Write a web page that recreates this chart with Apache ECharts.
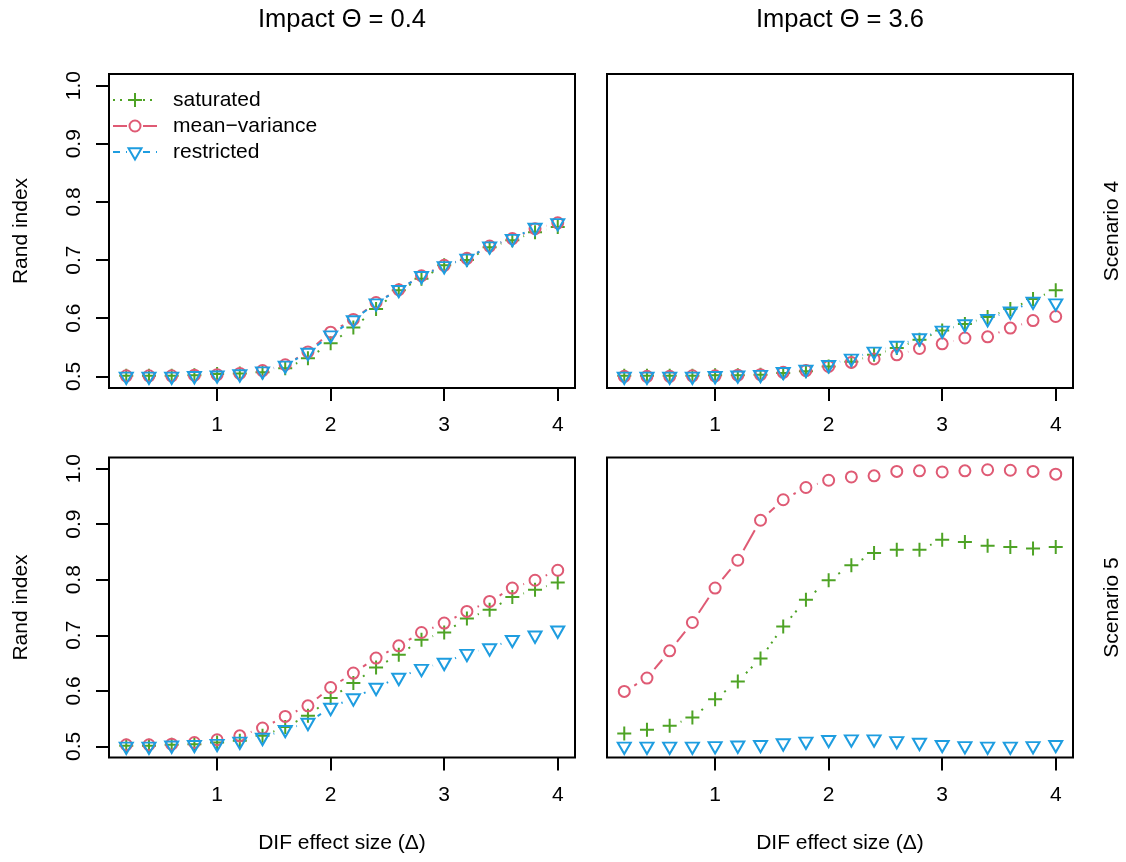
<!DOCTYPE html>
<html><head><meta charset="utf-8">
<script src="https://cdn.jsdelivr.net/npm/echarts@6/dist/echarts.min.js"></script>
<style>html,body{margin:0;padding:0;background:#fff}#c{width:1126px;height:862px}</style>
</head><body><div id="c"></div>
<script>
// ---- data ----
const deltas = [0.2,0.4,0.6,0.8,1.0,1.2,1.4,1.6,1.8,2.0,2.2,2.4,2.6,2.8,3.0,3.2,3.4,3.6,3.8,4.0];
const xTicks = [1,2,3,4];
const yTicks = [0.5,0.6,0.7,0.8,0.9,1.0];
const colTitles = ['Impact \u0398 = 0.4', 'Impact \u0398 = 3.6'];
const rowTitles = ['Scenario 4', 'Scenario 5'];
const methods = ['saturated', 'mean\u2212variance', 'restricted'];

// Scenario 4, impact 0.4
const s4_lo_saturated  = [0.501,0.501,0.501,0.502,0.504,0.505,0.507,0.514,0.531,0.557,0.584,0.616,0.648,0.668,0.691,0.700,0.722,0.734,0.748,0.757];
const s4_lo_meanvar    = [0.501,0.501,0.501,0.502,0.503,0.505,0.510,0.520,0.542,0.576,0.598,0.627,0.649,0.673,0.691,0.703,0.724,0.737,0.754,0.764];
const s4_lo_restricted = [0.500,0.500,0.500,0.501,0.502,0.504,0.509,0.519,0.541,0.571,0.597,0.626,0.649,0.673,0.690,0.703,0.724,0.737,0.756,0.764];
// Scenario 4, impact 3.6
const s4_hi_saturated  = [0.501,0.501,0.501,0.501,0.502,0.502,0.503,0.506,0.509,0.517,0.525,0.537,0.549,0.563,0.579,0.590,0.602,0.616,0.633,0.648];
const s4_hi_meanvar    = [0.500,0.500,0.500,0.501,0.501,0.502,0.503,0.507,0.510,0.517,0.524,0.530,0.537,0.548,0.556,0.566,0.568,0.583,0.596,0.603];
const s4_hi_restricted = [0.500,0.500,0.500,0.500,0.501,0.502,0.503,0.508,0.512,0.520,0.531,0.543,0.553,0.566,0.579,0.590,0.599,0.612,0.629,0.626];
// Scenario 5, impact 0.4
const s5_lo_saturated  = [0.501,0.501,0.503,0.504,0.507,0.510,0.519,0.535,0.555,0.587,0.614,0.642,0.665,0.692,0.705,0.730,0.746,0.769,0.782,0.795];
const s5_lo_meanvar    = [0.503,0.503,0.504,0.507,0.512,0.519,0.533,0.554,0.573,0.606,0.632,0.659,0.681,0.705,0.722,0.743,0.761,0.785,0.799,0.817];
const s5_lo_restricted = [0.500,0.500,0.502,0.503,0.505,0.509,0.516,0.530,0.543,0.570,0.587,0.606,0.624,0.640,0.651,0.667,0.677,0.692,0.700,0.709];
// Scenario 5, impact 3.6
const s5_hi_saturated  = [0.523,0.530,0.537,0.552,0.585,0.617,0.658,0.716,0.764,0.799,0.826,0.848,0.854,0.854,0.872,0.868,0.861,0.859,0.856,0.859];
const s5_hi_meanvar    = [0.599,0.623,0.672,0.723,0.785,0.835,0.907,0.944,0.966,0.979,0.985,0.987,0.995,0.996,0.994,0.996,0.998,0.997,0.995,0.990];
const s5_hi_restricted = [0.500,0.500,0.500,0.500,0.501,0.502,0.503,0.506,0.509,0.512,0.513,0.513,0.510,0.507,0.503,0.501,0.500,0.500,0.501,0.503];

const panels = [
  [s4_lo_saturated, s4_lo_meanvar, s4_lo_restricted],
  [s4_hi_saturated, s4_hi_meanvar, s4_hi_restricted],
  [s5_lo_saturated, s5_lo_meanvar, s5_lo_restricted],
  [s5_hi_saturated, s5_hi_meanvar, s5_hi_restricted]
];

// ---- styles ----
const FONT = "'Liberation Sans', Arial, Helvetica, sans-serif";
const colors = ['#4EA325', '#DF5A74', '#1E9DE0'];
const dashes = [[2, 5], null, [7, 6]];
const PLUS = 'path://M5,0 L5,10 M0,5 L10,5';
const TRI = 'path://M0,0 L11.547,0 L5.7735,10 Z';
const symbols = [PLUS, 'circle', TRI];
const symSizes = [14, 11, [13, 11.3]];
const symOffsets = [[0,0],[0,0],[0,1.9]];
const GAP = 11.6;

const gridBoxes = [
  {left:109, top:74, width:466, height:314},
  {left:607, top:74, width:466, height:314},
  {left:109, top:457.5, width:466, height:300},
  {left:607, top:457.5, width:466, height:300}
];
const showY = [true, false, true, false];

const grids = gridBoxes.map(b => Object.assign({show:true, borderColor:'#000', borderWidth:2, backgroundColor:'transparent'}, b));
const xAxes = gridBoxes.map((b,i) => ({
  type:'value', gridIndex:i, min:0.048, max:4.152,
  axisLine:{show:false}, splitLine:{show:false},
  axisTick:{show:true, inside:false, length:13, lineStyle:{color:'#000', width:2}, customValues:xTicks},
  axisLabel:{show:true, customValues:xTicks, formatter:v=>String(v), fontSize:21, color:'#000', fontFamily:FONT, margin:27}
}));
const yAxes = gridBoxes.map((b,i) => ({
  type:'value', gridIndex:i, min:0.48, max:1.02,
  axisLine:{show:false}, splitLine:{show:false},
  axisTick:{show:showY[i], inside:false, length:13, lineStyle:{color:'#000', width:2}, customValues:yTicks},
  axisLabel:{show:showY[i], customValues:yTicks, formatter:v=>v.toFixed(1), fontSize:21, color:'#000', fontFamily:FONT, rotate:90, margin:24}
}));

function gapLine(gi, ys, color, dash) {
  const data = [];
  for (let i = 1; i < deltas.length; i++) data.push([deltas[i], ys[i], deltas[i-1], ys[i-1]]);
  return {
    type:'custom', xAxisIndex:gi, yAxisIndex:gi, data, silent:true, clip:true,
    encode:{x:[0,2], y:[1,3]},
    renderItem(params, api) {
      const p1 = api.coord([api.value(0), api.value(1)]);
      const p0 = api.coord([api.value(2), api.value(3)]);
      const dx = p1[0]-p0[0], dy = p1[1]-p0[1];
      const d = Math.hypot(dx, dy);
      if (d <= 2*GAP) return {type:'group', children:[]};
      const ux = dx/d, uy = dy/d;
      return {type:'line', shape:{x1:p0[0]+ux*GAP, y1:p0[1]+uy*GAP, x2:p1[0]-ux*GAP, y2:p1[1]-uy*GAP},
        style:{stroke:color, lineWidth:2, lineDash:dash || null, fill:null}};
    }
  };
}

const series = [];
panels.forEach((sets, gi) => {
  sets.forEach((ys, m) => {
    series.push(gapLine(gi, ys, colors[m], dashes[m]));
    series.push({
      type:'scatter', name:methods[m], xAxisIndex:gi, yAxisIndex:gi,
      data: deltas.map((x, k) => [x, ys[k]]),
      symbol:symbols[m], symbolSize:symSizes[m], symbolOffset:symOffsets[m],
      itemStyle:{color:'none', borderColor:colors[m], borderWidth:2, opacity:1},
      silent:true
    });
  });
});

// ---- text & legend ----
const txt = (x, y, text, size, rot) => ({type:'text', x, y, rotation: rot || 0,
  style:{text, fontSize:size, fontFamily:FONT, fill:'#000', textAlign:'center', textVerticalAlign:'middle'}});
const graphics = [
  txt(342, 20, colTitles[0], 25.5), txt(840, 20, colTitles[1], 25.5),
  txt(342, 843, 'DIF effect size (\u0394)', 21), txt(840, 843, 'DIF effect size (\u0394)', 21),
  txt(21, 231, 'Rand index', 21, Math.PI/2), txt(21, 607.5, 'Rand index', 21, Math.PI/2),
  txt(1112, 231, rowTitles[0], 21, Math.PI/2), txt(1112, 607.5, rowTitles[1], 21, Math.PI/2)
];
const legY = [100, 126, 152];
methods.forEach((name, m) => {
  const y = legY[m];
  graphics.push({type:'line', shape:{x1:113, y1:y, x2:127, y2:y}, style:{stroke:colors[m], lineWidth:2, lineDash:dashes[m]||null}});
  graphics.push({type:'line', shape:{x1:143, y1:y, x2:157, y2:y}, style:{stroke:colors[m], lineWidth:2, lineDash:dashes[m]||null}});
  graphics.push({type:'text', x:173, y:y, style:{text:name, fontSize:21, fontFamily:FONT, fill:'#000', textAlign:'left', textVerticalAlign:'middle'}});
});
graphics.push({type:'line', shape:{x1:135, y1:93, x2:135, y2:107}, style:{stroke:colors[0], lineWidth:2}});
graphics.push({type:'line', shape:{x1:128, y1:100, x2:142, y2:100}, style:{stroke:colors[0], lineWidth:2}});
graphics.push({type:'circle', shape:{cx:135, cy:126, r:5.5}, style:{stroke:colors[1], lineWidth:2, fill:null}});
graphics.push({type:'polygon', shape:{points:[[128.5,148.2],[141.5,148.2],[135,159.5]]}, style:{stroke:colors[2], lineWidth:2, fill:null}});

const chart = echarts.init(document.getElementById('c'), null, {renderer:'canvas'});
chart.setOption({
  animation:false, backgroundColor:'#fff',
  grid:grids, xAxis:xAxes, yAxis:yAxes, series, graphic:graphics
});
</script></body></html>
